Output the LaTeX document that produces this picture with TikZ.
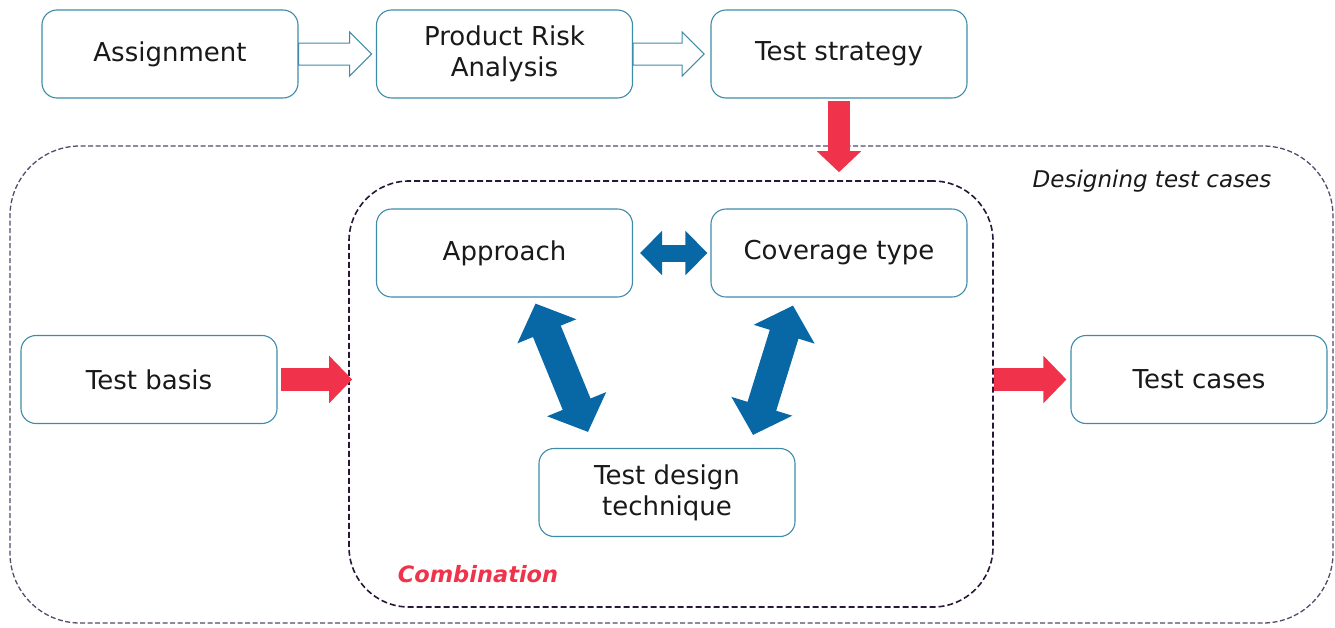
\documentclass[tikz,border=0pt]{standalone}
\usepackage{fontspec}
\setmainfont{DejaVu Sans}
\usetikzlibrary{arrows.meta,calc}
\definecolor{boxline}{RGB}{62,140,168}
\definecolor{hot}{RGB}{240,50,75}
\definecolor{deepblue}{RGB}{8,104,166}
\definecolor{outerdash}{RGB}{88,72,106}
\definecolor{innerdash}{RGB}{40,24,56}
\begin{document}
\begin{tikzpicture}[x=1pt,y=-1pt,
  stage/.style={draw=boxline, line width=1.1pt, rounded corners=15pt, fill=white,
    minimum width=256pt, minimum height=88pt, align=center, inner sep=0pt,
    font=\fontsize{26}{31}\selectfont, text=black!90},
  outerframe/.style={draw=outerdash, line width=1.3pt, dash pattern=on 5pt off 2.5pt,
    rounded corners=70pt, minimum width=1323pt, minimum height=477pt, inner sep=0pt},
  innerframe/.style={draw=innerdash, line width=1.6pt, dash pattern=on 6pt off 3pt,
    rounded corners=60pt, minimum width=644pt, minimum height=426pt, inner sep=0pt},
  hollow/.style={draw=boxline, line width=1pt, fill=white, line join=miter},
  hotarrow/.style={draw=hot, line width=23pt, -{Triangle[width=46pt,length=23pt]}},
  hotdown/.style={draw=hot, line width=22pt, -{Triangle[width=43pt,length=21pt]}},
  twoway/.style={draw=deepblue, line width=30pt, {Triangle[width=62pt,length=30pt]}-{Triangle[width=62pt,length=30pt]}},
  twowayflat/.style={draw=deepblue, line width=17pt, {Triangle[width=43pt,length=22pt]}-{Triangle[width=43pt,length=22pt]}}
]
\useasboundingbox (0,0) rectangle (1335,627);

% frames
\node[outerframe] (design) at (671.5,384.5) {};
\node[innerframe] (combo) at (671,394) {};
\node[font=\fontsize{23}{28}\selectfont\itshape, text=black!90] (designlabel) at (1152,181) {Designing test cases};
\node[font=\fontsize{22.5}{27}\selectfont\bfseries\itshape, text=hot] (combolabel) at (478,574) {Combination};

% top row
\node[stage] (assign) at (170,54) {Assignment};
\node[stage] (pra) at (504.5,54) {Product Risk\\Analysis};
\node[stage] (strat) at (839,54) {Test strategy};

% inner boxes
\node[stage] (approach) at (504.5,253) {Approach};
\node[stage] (cov) at (839,253) {Coverage type};
\node[stage] (tdt) at (667,492.5) {Test design\\technique};

% side boxes
\node[stage] (basis) at (149,379.5) {Test basis};
\node[stage] (cases) at (1199,379.5) {Test cases};

% hollow flow arrows along the top row
\draw[hollow] (assign.east) ++(0,-11) -- ++(51,0) -- ++(0,-11) -- ++(22,22)
  -- ++(-22,22) -- ++(0,-11) -- ++(-51,0) -- cycle;
\draw[hollow] (pra.east) ++(0,-11) -- ++(49,0) -- ++(0,-11) -- ++(22,22)
  -- ++(-22,22) -- ++(0,-11) -- ++(-49,0) -- cycle;

% red flow arrows
\draw[hotdown] ([yshift=-2pt]strat.south) -- ($(strat.south |- combo.north)+(0,-8)$);
\draw[hotarrow] ([xshift=3pt]basis.east) -- ($(basis.east -| combo.west)+(4,0)$);
\draw[hotarrow] (combo.east |- cases.west) -- ([xshift=-4pt]cases.west);

% blue two-way arrows inside the combination
\draw[twowayflat] ([xshift=7pt]approach.east) -- ([xshift=-3pt]cov.west);
\coordinate (ltop) at ($(approach.south)+(31,6)$);
\coordinate (lbot) at ($(tdt.north)+(-79,-16)$);
\coordinate (rtop) at ($(cov.south)+(-46,8)$);
\coordinate (rbot) at ($(tdt.north)+(86,-13)$);
\draw[twoway] (ltop) -- (lbot);
\draw[twoway] (rtop) -- (rbot);
\end{tikzpicture}
\end{document}
